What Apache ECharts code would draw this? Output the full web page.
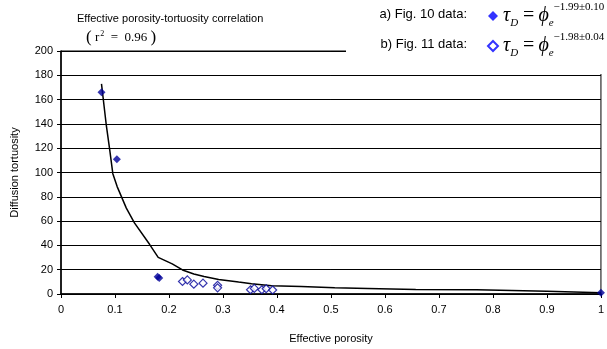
<!DOCTYPE html>
<html>
<head>
<meta charset="utf-8">
<script src="https://cdn.jsdelivr.net/npm/echarts@6/dist/echarts.min.js"></script>
<style>
  html, body { margin: 0; padding: 0; background: #fff; }
  #main { width: 607px; height: 349px; }
</style>
</head>
<body>
<div id="main"></div>
<script>
// Fig. 10 data (filled diamonds)
var fig10 = [
    [0.075, 166], [0.1035, 111], [0.179, 14.3], [0.182, 13.2], [1.0, 1.0]
];
// Fig. 11 data (open diamonds)
var fig11 = [
    [0.225, 10.3], [0.234, 11.6], [0.246, 8.1], [0.263, 8.9], [0.29, 7.1], [0.29, 5.1],
    [0.351, 3.5], [0.358, 4.6], [0.372, 3.5], [0.380, 4.3], [0.392, 3.3]
];
// correlation curve
var fitCurve = [
    [0.075, 173], [0.084, 138.5], [0.090, 119.5], [0.096, 99], [0.104, 88.4], [0.121, 70.7],
    [0.136, 58.5], [0.164, 40.9], [0.180, 30.1], [0.193, 27.5], [0.206, 24.8], [0.225, 19.8],
    [0.246, 16.5], [0.265, 14.4], [0.292, 12.0], [0.329, 9.8], [0.353, 8.4], [0.39, 6.7],
    [0.445, 6.2], [0.507, 5.1], [0.568, 4.6], [0.657, 3.8], [0.77, 3.5], [0.9, 2.2], [1.0, 1.0]
];
var legendNames = ['a) Fig. 10 data:', 'b) Fig. 11 data:'];
var exponents = ['\u22121.99\u00b10.10', '\u22121.98\u00b10.04'];

var sans = 'Liberation Sans, Arial, sans-serif';
var serif = 'Liberation Serif, Times New Roman, serif';

var myChart = echarts.init(document.getElementById('main'));
myChart.setOption({
    animation: false,
    backgroundColor: '#fff',
    grid: {
        left: 61, right: 2, top: 51, bottom: 52,
        show: true, borderColor: '#000', borderWidth: 1
    },
    xAxis: {
        type: 'value',
        min: 0, max: 1, interval: 0.1,
        name: 'Effective porosity',
        nameLocation: 'middle',
        nameGap: 39,
        nameTextStyle: { color: '#000', fontSize: 11, fontFamily: sans },
        axisLine: { lineStyle: { color: '#000', width: 1.5 } },
        axisTick: { show: true, length: 4, lineStyle: { color: '#000' } },
        axisLabel: { color: '#000', fontSize: 11, fontFamily: sans, margin: 10 },
        splitLine: { show: false }
    },
    yAxis: {
        type: 'value',
        min: 0, max: 200, interval: 20,
        name: 'Diffusion tortuosity',
        nameLocation: 'middle',
        nameGap: 41,
        nameTextStyle: { color: '#000', fontSize: 11, fontFamily: sans },
        axisLine: { show: true, lineStyle: { color: '#000', width: 1.5 } },
        axisTick: { show: true, length: 4, lineStyle: { color: '#000' } },
        axisLabel: { color: '#000', fontSize: 11, fontFamily: sans, margin: 8 },
        splitLine: { show: true, lineStyle: { color: '#000', width: 1 } }
    },
    legend: {
        orient: 'vertical',
        left: 482, top: -3,
        itemWidth: 10, itemHeight: 10, itemGap: 2,
        z: 20,
        data: [
            { name: legendNames[0], icon: 'diamond', itemStyle: { color: '#0000ff' } },
            { name: legendNames[1], icon: 'emptyDiamond', itemStyle: { color: '#0000ff', borderColor: '#0000ff', borderWidth: 1 } }
        ],
        formatter: function (name) {
            var i = legendNames.indexOf(name);
            return '{t|\u03c4}{s|D}{eq|=}{t|\u03d5}{s|e}{sup|' + exponents[i] + '}';
        },
        textStyle: {
            color: '#000',
            rich: {
                t: { fontFamily: serif, fontStyle: 'italic', fontSize: 20, lineHeight: 28, color: '#000' },
                s: { fontFamily: serif, fontStyle: 'italic', fontSize: 11, lineHeight: 28, verticalAlign: 'bottom', color: '#000', padding: [0, 0, 1, 0] },
                eq: { fontFamily: serif, fontSize: 20, lineHeight: 28, color: '#000', padding: [0, 4, 0, 5] },
                sup: { fontFamily: serif, fontSize: 11, lineHeight: 28, verticalAlign: 'top', color: '#000', padding: [0, 0, 0, 0] }
            }
        }
    },
    graphic: [
        { type: 'rect', z: 10, shape: { x: 346, y: 0, width: 261, height: 74 }, style: { fill: '#fff' } },
        { type: 'text', z: 11, left: 77, top: 13, style: { text: 'Effective porosity-tortuosity correlation', fontSize: 11, fontFamily: sans, fill: '#000' } },
        { type: 'text', z: 11, left: 86, top: 28, style: {
            text: '{p|(}{r| r}{sup|2}{r|  =  0.96 }{p|)}', fill: '#000',
            rich: {
                p: { fontFamily: serif, fontSize: 17, lineHeight: 19 },
                r: { fontFamily: serif, fontSize: 13, lineHeight: 19 },
                sup: { fontFamily: serif, fontSize: 8, lineHeight: 19, verticalAlign: 'top', padding: [2, 0, 0, 1] }
            }
        } },
        { type: 'text', z: 11, right: 140, top: 8, style: { text: legendNames[0], fontSize: 13, fontFamily: sans, fill: '#000' } },
        { type: 'text', z: 11, right: 140, top: 38, style: { text: legendNames[1], fontSize: 13, fontFamily: sans, fill: '#000' } }
    ],
    series: [{
        name: 'curve',
        type: 'line',
        data: fitCurve,
        showSymbol: false,
        symbol: 'none',
        lineStyle: { color: '#000', width: 1.5 },
        z: 3
    }, {
        name: legendNames[0],
        type: 'scatter',
        data: fig10,
        symbol: 'diamond',
        symbolSize: 8,
        itemStyle: { color: '#000099' },
        z: 4
    }, {
        name: legendNames[1],
        type: 'scatter',
        data: fig11,
        symbol: 'diamond',
        symbolSize: 8,
        itemStyle: { color: '#fff', borderColor: '#000099', borderWidth: 1.2 },
        z: 4
    }]
});
</script>
</body>
</html>
